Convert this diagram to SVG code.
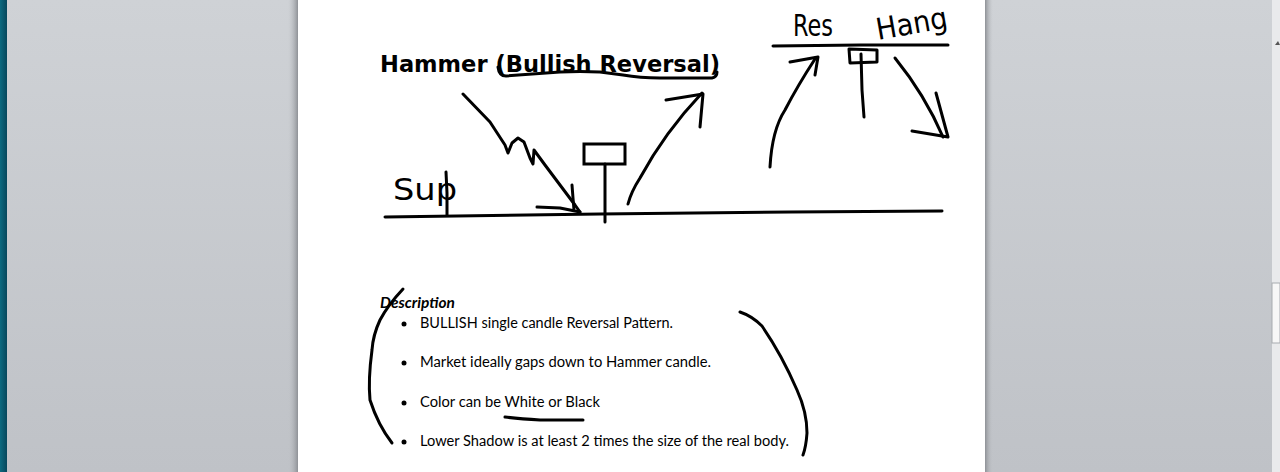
<svg xmlns="http://www.w3.org/2000/svg" width="1280" height="472" viewBox="0 0 1280 472">
<defs>
<linearGradient id="bg" x1="0" y1="0" x2="0" y2="1">
<stop offset="0" stop-color="#cfd2d6"/>
<stop offset="1" stop-color="#bfc2c7"/>
</linearGradient>
<linearGradient id="teal" x1="0" y1="0" x2="1" y2="0">
<stop offset="0" stop-color="#0c6a80"/>
<stop offset="1" stop-color="#07475c"/>
</linearGradient>
<linearGradient id="shL" x1="0" y1="0" x2="1" y2="0">
<stop offset="0" stop-color="#bfc2c6" stop-opacity="0"/>
<stop offset="1" stop-color="#8e9196"/>
</linearGradient>
<linearGradient id="shR" x1="0" y1="0" x2="1" y2="0">
<stop offset="0" stop-color="#8e9196"/>
<stop offset="1" stop-color="#bfc2c6" stop-opacity="0"/>
</linearGradient>
</defs>
<style>
.ink{fill:none;stroke:#000;stroke-width:3;stroke-linecap:round;stroke-linejoin:round}
.hand{font-family:"DejaVu Sans","Liberation Sans",sans-serif;font-weight:normal;font-size:30px;fill:#000}
.body{font-family:Lato,"Open Sans","Liberation Sans",sans-serif;font-size:14.5px;fill:#000}
.title{font-family:"DejaVu Sans","Liberation Sans",sans-serif;font-weight:bold;font-size:23px;fill:#000}
</style>
<g id="window">
<rect x="0" y="0" width="1280" height="472" fill="url(#bg)"/>
<rect x="0" y="0" width="7" height="472" fill="url(#teal)"/>
<rect x="288" y="0" width="10" height="472" fill="url(#shL)"/>
<rect x="985" y="0" width="8" height="472" fill="url(#shR)"/>
<rect x="298" y="0" width="687" height="472" fill="#ffffff"/>
<rect x="1272" y="0" width="8" height="472" fill="#e9eaec"/>
<rect x="1272" y="283" width="8" height="60" fill="#f7f7f7" stroke="#a8abb0" stroke-width="1"/>
<path d="M1275 45 L1278 41 L1280 45 Z" fill="#555"/>
</g>
<g id="title">
<text class="title" x="380" y="72" textLength="340" lengthAdjust="spacingAndGlyphs">Hammer (Bullish Reversal)</text>
<path class="ink" d="M498 67 Q499 76 506 76 L560 72 Q580 71 600 72 L623 75 Q640 78 660 78 L712 78 Q717 77 717 72"/>
</g>
<g id="support">
<path class="ink" d="M385 217 L600 214 L790 212 L942 211"/>
<text class="hand" x="393" y="200" textLength="64" lengthAdjust="spacingAndGlyphs">Sup</text>
<path class="ink" d="M446 172 L447 193 L447 215" stroke-width="2.5"/>
</g>
<g id="hammer-candle">
<rect x="584" y="144" width="41" height="20" fill="#fff" stroke="#000" stroke-width="3"/>
<path class="ink" d="M605 164 L605 222"/>
</g>
<g id="resistance">
<path class="ink" d="M773 46 L860 45 L948 45"/>
<text class="hand" x="793" y="36" font-size="28" textLength="40" lengthAdjust="spacingAndGlyphs">Res</text>
<text class="hand" x="878" y="40" font-size="26" textLength="72" lengthAdjust="spacingAndGlyphs" transform="rotate(-10 878 40)">Hang</text>
</g>
<g id="hanging-candle">
<path class="ink" d="M849 49 L877 50 L877 62 L850 63 Z" stroke-width="2.5"/>
<path class="ink" d="M861 54 L862 90 L864 117"/>
</g>
<g id="connectors">
<path class="ink" d="M463 94 L490 122 L505 145 L508 153 L512 143 L518 138 L524 142 L530 158 L533 164 L534 150 L545 165 L560 185 L575 205 L580 212"/>
<path class="ink" d="M537 207 L560 208 L580 212 M572 185 L573 198 L574 210"/>
<path class="ink" d="M628 204 Q631 192 640 178 Q665 132 702 93"/>
<path class="ink" d="M666 100 L703 94 L700 127"/>
<path class="ink" d="M770 167 Q772 130 785 110 Q798 85 815 59"/>
<path class="ink" d="M790 62 L818 57 L815 75"/>
<path class="ink" d="M895 58 Q925 95 943 137"/>
<path class="ink" d="M912 131 L948 137 L936 93"/>
</g>
<g id="description">
<text class="body" x="380" y="308" font-weight="bold" font-style="italic" textLength="75" lengthAdjust="spacingAndGlyphs">Description</text>
<circle cx="404" cy="324" r="2.5"/>
<circle cx="404" cy="363" r="2.5"/>
<circle cx="404" cy="403" r="2.5"/>
<circle cx="404" cy="442" r="2.5"/>
<text class="body" x="420" y="328" textLength="253" lengthAdjust="spacingAndGlyphs">BULLISH single candle Reversal Pattern.</text>
<text class="body" x="420" y="367" textLength="291" lengthAdjust="spacingAndGlyphs">Market ideally gaps down to Hammer candle.</text>
<text class="body" x="420" y="407" textLength="180" lengthAdjust="spacingAndGlyphs">Color can be White  or Black</text>
<text class="body" x="420" y="446" textLength="369" lengthAdjust="spacingAndGlyphs">Lower Shadow is at least 2 times the size of the real body.</text>
<path class="ink" d="M403 289 Q388 305 380 320 Q373 335 372 350 Q368 380 370 400 Q378 425 392 443"/>
<path class="ink" d="M740 312 Q752 316 762 326 Q782 355 797 390 Q807 412 807 433 Q806 447 803 455"/>
<path class="ink" d="M505 417 Q520 419 540 420 L583 420" stroke-width="2.5"/>
</g>
</svg>
